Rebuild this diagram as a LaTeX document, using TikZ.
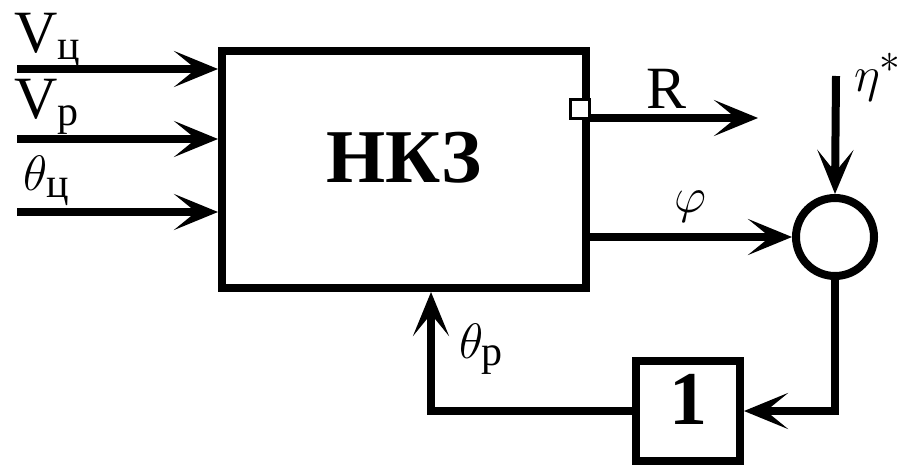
\documentclass[tikz,border=0pt]{standalone}
\usepackage{amsmath}
\usepackage{fontspec}
\setmainfont{Liberation Serif}
\usetikzlibrary{arrows.meta}

\begin{document}
\begin{tikzpicture}[>={Stealth[length=22pt,width=18pt,inset=11pt]},x=0.5pt,y=-0.5pt,line width=4pt,inner sep=0pt,
  block/.style={draw,font=\fontsize{38}{44}\bfseries\selectfont},
  lbl/.style={font=\fontsize{30}{36}\selectfont,anchor=base west}]
  \useasboundingbox (0,0) rectangle (910,466);
  \node (nkz) at (404,169.5)[block,minimum width=182pt,minimum height=118.5pt,text depth=12pt]{НКЗ};
  \node (sum) at (835,237)[draw,circle,minimum size=39pt]{};
  \node (one) at (688,411)[block,minimum width=52pt,minimum height=50pt,text depth=12pt]{1};
  % inputs
  \coordinate (vc) at (17,69);
  \coordinate (vp) at (17,139);
  \coordinate (tc) at (17,212);
  \foreach \x in {vc,vp,tc}
    \draw[->] (\x) -- (\x -| nkz.west);
  \node (lvc) at (10,52)[lbl]{V\textsubscript{ц}};
  \node (lvp) at (10,118)[lbl]{V\textsubscript{р}};
  \node (ltc) at (20,190)[lbl]{$\theta_{\text{ц}}$};
  % outputs
  \coordinate (rend) at (758,118);
  \draw[->] (rend -| nkz.east) -- (rend);
  \node (tap) at (580,108.5)[draw,fill=white,line width=1.5pt,minimum size=9.5pt]{};
  \node (lr) at (642,108)[lbl]{R};
  \draw[->] (nkz.east |- sum) -- (sum.west);
  \node (lphi) at (670,212)[lbl]{$\varphi$};
  \coordinate (eta) at (836,76);
  \draw[->] (eta) -- (sum.north);
  \node (leta) at (850,91)[lbl]{$\eta^*$};
  % feedback
  \draw[->] (sum.south) |- (one.east);
  \coordinate (fb) at (431,411);
  \draw[->] (one.west) -- (fb) -- (fb |- nkz.south);
  \node (ltp) at (455,358)[lbl]{$\theta_{\text{р}}$};
\end{tikzpicture}
\end{document}
